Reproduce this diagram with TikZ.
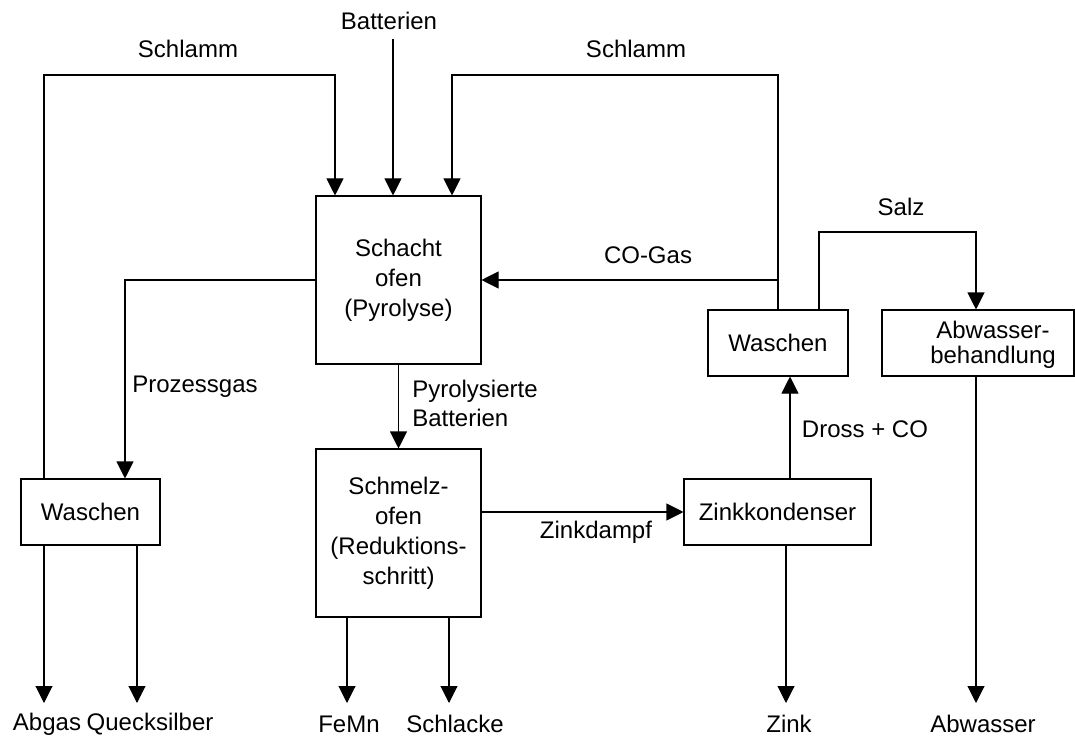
\documentclass[tikz,border=0pt]{standalone}
\usepackage{fontspec}
\setmainfont{Liberation Sans}
\usetikzlibrary{arrows.meta}
\begin{document}
\begin{tikzpicture}[x=0.75pt,y=-0.75pt,
  every node/.style={font=\fontsize{18}{22.5}\selectfont, inner sep=0pt},
  box/.style={draw, line width=0.8pt, align=center},
  lbl/.style={align=center},
  conn/.style={line width=0.8pt},
  arr/.style={conn, -{Triangle[width=12.75pt,length=12.75pt]}}]
\useasboundingbox (0,0) rectangle (1075,738);
% boxes
\node[box, minimum width=165*0.75pt, minimum height=168*0.75pt] (ofen1) at (398.5,280) {Schacht\\ofen\\(Pyrolyse)};
\node[box, minimum width=165*0.75pt, minimum height=168*0.75pt] (ofen2) at (398.5,533) {Schmelz-\\ofen\\(Reduktions-\\schritt)};
\node[box, minimum width=139*0.75pt, minimum height=66*0.75pt] (wasch1) at (90.5,512) {Waschen};
\node[box, minimum width=140*0.75pt, minimum height=66*0.75pt] (wasch2) at (778,343) {Waschen};
\node[box, minimum width=192*0.75pt, minimum height=66*0.75pt] (abw) at (978,343) {};
\node[lbl, font=\fontsize{18}{18.75}\selectfont] (abwtext) at (993,345) {Abwasser-\\behandlung};
\node[box, minimum width=187*0.75pt, minimum height=66*0.75pt] (zink) at (777.5,512) {Zinkkondenser};
% labels
\node[lbl] (schlammL) at (188,49) {Schlamm};
\node[lbl] (schlammR) at (636,49) {Schlamm};
\node[lbl] (batt) at (389,21) {Batterien};
\node[lbl] (salz) at (901,207) {Salz};
\node[lbl] (cogas) at (648,255) {CO-Gas};
\node[lbl] (prozess) at (195,387) {Prozessgas};
\node[align=left, anchor=west, font=\fontsize{18}{21.75}\selectfont] (pyro) at (412,403) {Pyrolysierte\\Batterien};
\node[lbl] (zdampf) at (596,532) {Zinkdampf};
\node[lbl] (dross) at (865,429) {Dross + CO};
\node[lbl] (abgas) at (47,724) {Abgas};
\node[lbl] (queck) at (150,724) {Quecksilber};
\node[lbl] (femn) at (349,724) {FeMn};
\node[lbl] (schlacke) at (455,724) {Schlacke};
\node[lbl] (zinkout) at (789,724) {Zink};
\node[lbl] (abwasser) at (983,724) {Abwasser};
% helper coordinates
\coordinate (c1) at (44,75);
\coordinate (c2) at (335,75);
\coordinate (b0) at (393,39);
\coordinate (c4) at (452,75);
\coordinate (c5) at (778,75);
\coordinate (c3) at (125,280);
\coordinate (s1) at (819,232);
\coordinate (s2) at (976,232);
\coordinate (d1) at (790,0);
\coordinate (q1) at (137,703);
\coordinate (a1) at (44,703);
\coordinate (f1) at (347,703);
\coordinate (f2) at (449,703);
\coordinate (z1) at (786,703);
\coordinate (w1) at (976,703);
% connectors
\draw[arr] (wasch1.north -| c1) -- (c1) -- (c2) -- (ofen1.north -| c2);
\draw[arr] (b0) -- (ofen1.north -| b0);
\draw[arr] (wasch2.north) -- (c5) -- (c4) -- (ofen1.north -| c4);
\draw[arr] (wasch2.north |- ofen1.east) -- (ofen1.east);
\draw[arr] (ofen1.west) -- (c3) -- (wasch1.north -| c3);
\draw[arr] (ofen1.south) -- (ofen2.north);
\draw[arr] (wasch1.south -| a1) -- (a1);
\draw[arr] (wasch1.south -| q1) -- (q1);
\draw[arr] (ofen2.south -| f1) -- (f1);
\draw[arr] (ofen2.south -| f2) -- (f2);
\draw[arr] (ofen2.east |- zink.west) -- (zink.west);
\draw[arr] (zink.north -| d1) -- (wasch2.south -| d1);
\draw[arr] (zink.south -| z1) -- (z1);
\draw[arr] (wasch2.north -| s1) -- (s1) -- (s2) -- (abw.north -| s2);
\draw[arr] (abw.south -| w1) -- (w1);
\end{tikzpicture}
\end{document}
